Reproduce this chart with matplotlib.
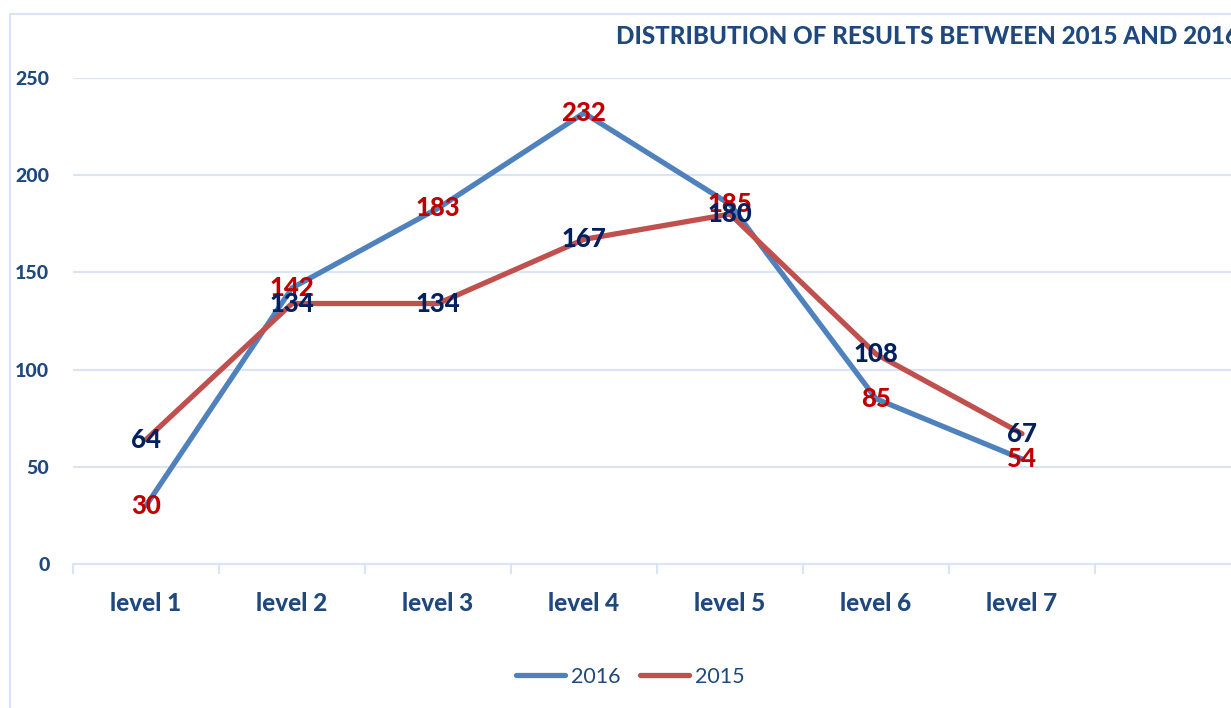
import matplotlib.pyplot as plt
from matplotlib.patches import Rectangle
from matplotlib.ticker import FixedLocator
import numpy as np

categories = ["level 1", "level 2", "level 3", "level 4", "level 5", "level 6", "level 7", ""]
y2016 = [30, 142, 183, 232, 185, 85, 54]
y2015 = [64, 134, 134, 167, 180, 108, 67]
yticks = [0, 50, 100, 150, 200, 250]

plt.rcParams['font.family'] = ['Lato', 'DejaVu Sans']

blue = '#4f81bd'
red = '#c0504d'
grid_c = '#d9e4f5'
text_c = '#1f497d'

W, H = 1231, 708
fig = plt.figure(figsize=(W / 100, H / 100), dpi=100)

# chart area border
fig.patches.append(Rectangle((10 / W, -0.1), 1.2, 1 - 14 / H + 0.1,
                             transform=fig.transFigure, fill=False,
                             edgecolor=grid_c, linewidth=1.5))

ax = fig.add_axes([73 / W, 144 / H, 1168 / W, 486 / H])
x = np.arange(len(y2016))

ax.plot(x, y2016, color=blue, lw=3.8, solid_capstyle='round', label='2016', zorder=3)
ax.plot(x, y2015, color=red, lw=3.8, solid_capstyle='round', label='2015', zorder=4)

for xi, v in zip(x, y2016):
    ax.text(xi, v, str(v), color='#c00000', fontsize=18.5, fontweight='black',
            ha='center', va='center', zorder=5)
for xi, v in zip(x, y2015):
    ax.text(xi, v, str(v), color='#002060', fontsize=18.5, fontweight='black',
            ha='center', va='center', zorder=6)

ax.set_xlim(-0.5, len(categories) - 0.5)
ax.set_ylim(0, 250)
ax.set_yticks(yticks)
ax.set_yticklabels([str(t) for t in yticks])
ax.set_xticks(np.arange(len(categories)))
ax.set_xticklabels(categories)
ax.xaxis.set_minor_locator(FixedLocator(np.arange(len(categories) + 1) - 0.5))

ax.grid(axis='y', color=grid_c, lw=1.5, zorder=0)
ax.set_axisbelow(True)
for s in ['top', 'right', 'left']:
    ax.spines[s].set_visible(False)
ax.spines['bottom'].set_color(grid_c)
ax.spines['bottom'].set_linewidth(1.5)

ax.tick_params(axis='y', length=0, pad=17, labelsize=14, labelcolor=text_c)
ax.tick_params(axis='x', which='major', length=0, pad=20, labelsize=17.5, labelcolor=text_c)
ax.tick_params(axis='x', which='minor', length=7, width=1.5, color=grid_c)
for lab in ax.get_xticklabels() + ax.get_yticklabels():
    lab.set_fontweight('black')

fig.text(616 / W, 1 - 37 / H, "DISTRIBUTION OF RESULTS BETWEEN 2015 AND 2016",
         ha='left', va='center', fontsize=17.4, fontweight='black', color=text_c)

leg = fig.legend(loc='center', bbox_to_anchor=(630 / W, 1 - 677 / H), ncol=2,
                 frameon=False, fontsize=15.5, handlelength=2.3, handletextpad=0.25,
                 columnspacing=0.9, labelcolor=text_c)

fig.savefig('out.png', dpi=100)
